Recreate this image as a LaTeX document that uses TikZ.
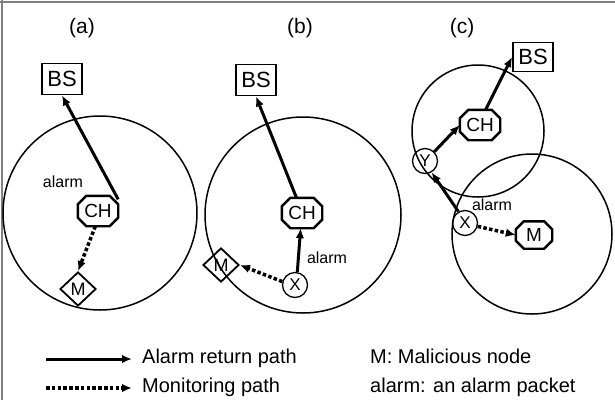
\documentclass[tikz,border=0pt]{standalone}
\usepackage{fontspec}
\setmainfont{Liberation Sans}
\usetikzlibrary{arrows.meta,shapes.geometric}
\tikzset{
  bsbox/.style={draw,line width=1.8pt,rectangle,minimum width=40pt,minimum height=31pt,inner sep=0pt,font=\fontsize{22}{22}\selectfont},
  octbox/.style={rectangle,minimum width=40pt,minimum height=30pt,inner sep=0pt,font=\fontsize{19}{19}\selectfont},
  octline/.style={line width=2.4pt,line join=miter},
  dmbox/.style={draw,line width=1.8pt,diamond,aspect=1,minimum width=36pt,minimum height=34pt,inner sep=0pt,font=\fontsize{18}{18}\selectfont},
  nodecirc/.style={draw,line width=1.3pt,circle,minimum size=25pt,inner sep=0pt,font=\fontsize{17}{17}\selectfont},
  radiorange/.style={draw,line width=1.5pt},
  retpath/.style={line width=3pt,-{Latex[length=10pt,width=8.5pt]}},
  monpath/.style={line width=3.5pt,dash pattern=on 3.5pt off 2.3pt,-{Latex[length=10pt,width=8.5pt]}},
  ttl/.style={font=\fontsize{21}{21}\selectfont},
  almlab/.style={font=\fontsize{16}{16}\selectfont},
  legtext/.style={font=\fontsize{20}{20}\selectfont,anchor=base west,inner sep=0pt},
}
\newcommand\octdraw[2]{\draw[octline] ([xshift=#2]#1.north west) -- ([xshift=-#2]#1.north east) -- ([yshift=-#2]#1.north east) -- ([yshift=#2]#1.south east) -- ([xshift=-#2]#1.south east) -- ([xshift=#2]#1.south west) -- ([yshift=#2]#1.south west) -- ([yshift=-#2]#1.north west) -- cycle;}
\begin{document}
\begin{tikzpicture}[x=1pt,y=-1pt]
\useasboundingbox (0,0) rectangle (615,400);
% frame
\draw[line width=2pt,gray] (0,2) -- (615,2);
\draw[line width=2pt,gray] (1.5,0) -- (1.5,400);

% ---------- (a) ----------
\node[ttl] (ta) at (82,28) {(a)};
\draw[radiorange] (100,213) circle[radius=97];
\node[bsbox] (bsa) at (62,79) {BS};
\node[octbox] (cha) at (98,211) {CH};
\octdraw{cha}{8.5pt}
\node[dmbox] (ma) at (78,289) {M};
\node[almlab] (ala) at (63,182) {alarm};
\draw[retpath] (cha.30) -- (bsa.south);
\draw[monpath] (cha.-100) -- (ma.north);

% ---------- (b) ----------
\node[ttl] (tb) at (300,28) {(b)};
\draw[radiorange] (303,215) circle[radius=98];
\node[bsbox] (bsb) at (256,80) {BS};
\node[octbox] (chb) at (302,213) {CH};
\octdraw{chb}{8.5pt}
\node[nodecirc] (xb) at (295,285) {X};
\node[dmbox] (mb) at (221,265) {M};
\node[almlab] (alb) at (327,258) {alarm};
\draw[retpath] (chb.110) -- (bsb.south);
\draw[retpath] (xb.80) -- (chb.-95);
\draw[monpath] (xb.165) -- (mb.east);

% ---------- (c) ----------
\node[ttl] (tc) at (462,28) {(c)};
\draw[radiorange] (478,131) circle[radius=66];
\draw[radiorange] (532,234) circle[radius=80];
\node[bsbox,minimum height=29pt] (bsc) at (533,57) {BS};
\node[octbox] (chc) at (480,125) {CH};
\octdraw{chc}{8.5pt}
\node[nodecirc] (yc) at (425,161) {Y};
\node[nodecirc] (xc) at (465,223) {X};
\node[octbox,minimum width=36pt,minimum height=27pt] (mc) at (534,235) {M};
\octdraw{mc}{8pt}
\node[almlab] (alc) at (492,205) {alarm};
\draw[retpath] (chc.70) -- (bsc.west);
\draw[retpath] (yc.45) -- (chc.west);
\draw[retpath] (xc.120) -- (yc.-60);
\draw[monpath] (xc.-15) -- (mc.west);

% ---------- legend ----------
\coordinate (l1s) at (46,359);
\coordinate (l1e) at (132,359);
\coordinate (l2s) at (46,388);
\coordinate (l2e) at (132,388);
\draw[retpath] (l1s) -- (l1e);
\draw[monpath] (l2s) -- (l2e);
\node[legtext] (lt1) at (142,363) {Alarm return path};
\node[legtext] (lt2) at (142,392) {Monitoring path};
\node[legtext] (lt3) at (370,363) {M: Malicious node};
\node[legtext] (lt4) at (370,392) {alarm: an alarm packet};
\end{tikzpicture}
\end{document}
